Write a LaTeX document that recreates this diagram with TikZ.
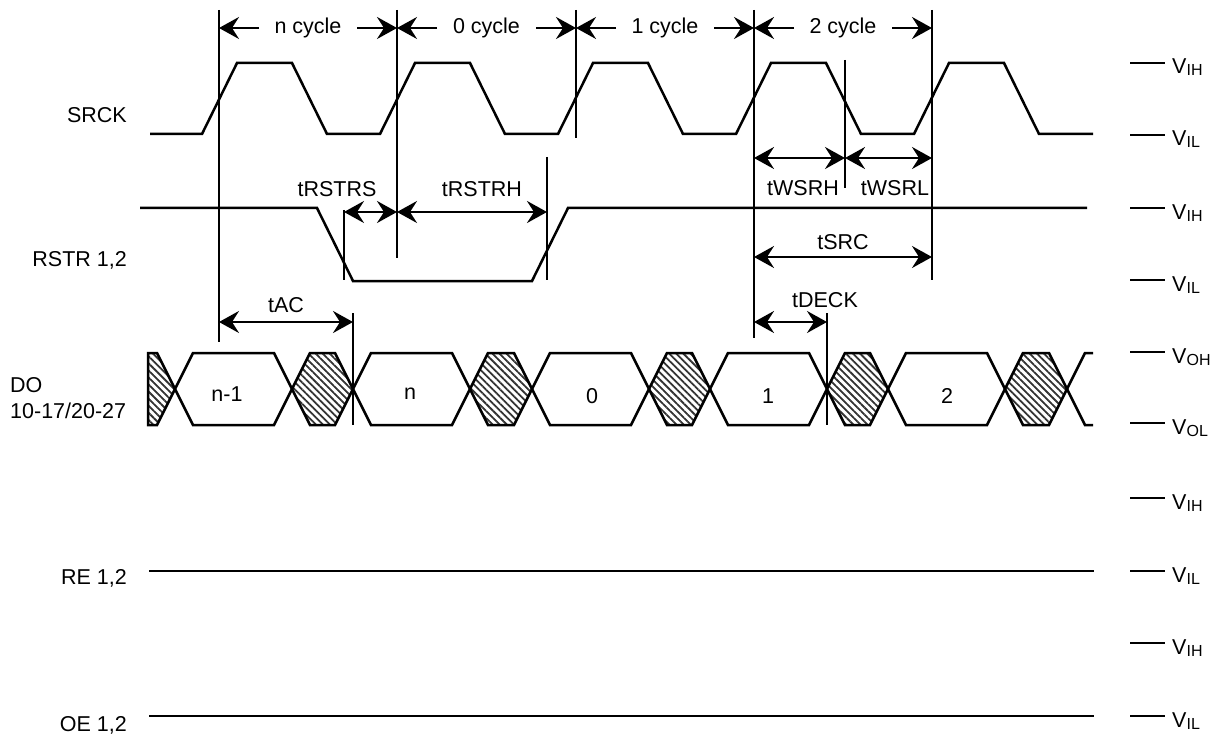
\documentclass[tikz,border=0pt]{standalone}
\usepackage{fontspec}
\setmainfont{Liberation Sans}
\usetikzlibrary{arrows.meta,patterns.meta}
\newcommand\lbf{\fontsize{21.5}{25}\selectfont}
\newcommand\Vlab[1]{V\raisebox{-2pt}{\fontsize{16}{16}\selectfont #1}}
\begin{document}
\begin{tikzpicture}[x=1pt,y=-1pt,
  wave/.style={line width=2.5pt,line join=miter},
  vmark/.style={line width=2.3pt},
  tipa/.tip={Stealth[length=20pt,width=22pt,inset=7pt]},
  onearrow/.style={line width=2.3pt,-tipa},
  dimarrow/.style={line width=2.3pt,tipa-tipa},
  lbl/.style={font=\lbf,inner sep=0pt},
  hatch/.style={wave,pattern={Lines[angle=-45,distance=5pt,line width=1.8pt]},pattern color=black!80},
  busw/.style={wave,fill=white}]
\useasboundingbox (0,0) rectangle (1223,738);

% ---- cycle marker lines
\coordinate (m1t) at (219,10);  \coordinate (m1b) at (219,342);
\coordinate (m2t) at (397,10);  \coordinate (m2b) at (397,258);
\coordinate (m3t) at (576,10);  \coordinate (m3b) at (576,138);
\coordinate (m4t) at (754,10);  \coordinate (m4b) at (754,338);
\coordinate (m5t) at (932,10);  \coordinate (m5b) at (932,280);
\draw[vmark] (m1t) -- (m1b);
\draw[vmark] (m2t) -- (m2b);
\draw[vmark] (m3t) -- (m3b);
\draw[vmark] (m4t) -- (m4b);
\draw[vmark] (m5t) -- (m5b);
\coordinate (mfa) at (845,60);  \coordinate (mfb) at (845,188);
\draw[vmark] (mfa) -- (mfb);
\coordinate (mra) at (344,210); \coordinate (mrb) at (344,280);
\draw[vmark] (mra) -- (mrb);
\coordinate (mha) at (547,157); \coordinate (mhb) at (547,280);
\draw[vmark] (mha) -- (mhb);
\coordinate (mac) at (353,313); \coordinate (macb) at (353,425);
\coordinate (mdk) at (827,313); \coordinate (mdkb) at (827,425);

% ---- cycle labels
\foreach \a/\b/\t/\n in {219/397/n cycle/cn,397/576/0 cycle/c0,576/754/1 cycle/c1,754/932/2 cycle/c2}{
  \node[lbl] (\n) at ({(\a+\b)/2},28) {\t};
  \coordinate (\n l) at (\a+40,28); \coordinate (\n L) at (\a,28);
  \coordinate (\n r) at (\b-40,28); \coordinate (\n R) at (\b,28);
  \draw[onearrow] (\n l) -- (\n L);
  \draw[onearrow] (\n r) -- (\n R);
}

% ---- SRCK
\draw[wave] (150,134)
  \foreach \k in {0,...,4}{ -- ({202+178*\k},134) -- ({237+178*\k},63) -- ({292+178*\k},63) -- ({327+178*\k},134)}
  -- (1093,134);

% ---- RSTR
\draw[wave] (140,208) -- (317,208) -- (353,281) -- (532,281) -- (568,208) -- (1087,208);

% ---- dimension arrows
\coordinate (wa) at (754,158); \coordinate (wb) at (845,158); \coordinate (wc) at (932,158);
\draw[dimarrow] (wa) -- (wb);
\draw[dimarrow] (wb) -- (wc);
\node[lbl] (tWSRH) at (803,188) {tWSRH};
\node[lbl] (tWSRL) at (895,188) {tWSRL};

\coordinate (ra) at (344,212); \coordinate (rb) at (397,212); \coordinate (rc) at (547,212);
\draw[dimarrow] (ra) -- (rb);
\draw[dimarrow] (rb) -- (rc);
\node[lbl] (tRSTRS) at (337,189) {tRSTRS};
\node[lbl] (tRSTRH) at (482,189) {tRSTRH};

\coordinate (sa) at (754,257); \coordinate (sb) at (932,257);
\draw[dimarrow] (sa) -- (sb);
\node[lbl] (tSRC) at (843,242) {tSRC};

\coordinate (aa) at (219,322); \coordinate (ab) at (353,322);
\draw[dimarrow] (aa) -- (ab);
\node[lbl] (tAC) at (286,305) {tAC};

\coordinate (da) at (754,322); \coordinate (db) at (827,322);
\draw[dimarrow] (da) -- (db);
\node[lbl] (tDECK) at (825,300) {tDECK};

% ---- DO bus
\draw[hatch] (148,353) -- (157,353) -- (175,389) -- (157,425) -- (148,425) -- cycle;
\foreach \a/\b in {175/292,353/470,532/649,710/827,888/1005}{
  \draw[busw] (\a,389) -- (\a+18,353) -- (\b-18,353) -- (\b,389) -- (\b-18,425) -- (\a+18,425) -- cycle;
}
\foreach \a/\b in {292/353,470/532,649/710,827/888,1005/1067}{
  \draw[hatch] (\a,389) -- (\a+18,353) -- (\b-18,353) -- (\b,389) -- (\b-18,425) -- (\a+18,425) -- cycle;
}
\draw[wave] (1067,389) -- (1085,353) -- (1093,353);
\draw[wave] (1067,389) -- (1085,425) -- (1093,425);
\draw[vmark] (mac) -- (macb);
\draw[vmark] (mdk) -- (mdkb);
\node[lbl] (dnm1) at (227,394) {n-1};
\node[lbl] (dn) at (410,394) {n};
\node[lbl] (d0) at (592,396) {0};
\node[lbl] (d1) at (768,396) {1};
\node[lbl] (d2) at (947,396) {2};

% ---- RE / OE
\coordinate (rea) at (149,571); \coordinate (reb) at (1094,571);
\draw[wave] (rea) -- (reb);
\coordinate (oea) at (149,716); \coordinate (oeb) at (1094,716);
\draw[wave] (oea) -- (oeb);

% ---- left labels
\node[lbl,anchor=east] (lsrck) at (127,115) {SRCK};
\node[lbl,anchor=east] (lrstr) at (127,260) {RSTR 1,2};
\node[lbl,anchor=west] (ldo) at (10,385) {DO};
\node[lbl,anchor=west] (ldo2) at (10,411) {10-17/20-27};
\node[lbl,anchor=east] (lre) at (127,578) {RE 1,2};
\node[lbl,anchor=east] (loe) at (127,725) {OE 1,2};

% ---- right level ticks
\foreach \y/\s/\n in {63/IH/v1,135/IL/v2,208/IH/v3,280/IL/v4,352/OH/v5,423/OL/v6,498/IH/v7,571/IL/v8,643/IH/v9,716/IL/v10}{
  \coordinate (\n a) at (1130,\y); \coordinate (\n b) at (1165,\y);
  \draw[wave] (\n a) -- (\n b);
  \node[lbl,anchor=base west] (\n) at (1172,\y+11) {\Vlab{\s}};
}
\end{tikzpicture}
\end{document}
